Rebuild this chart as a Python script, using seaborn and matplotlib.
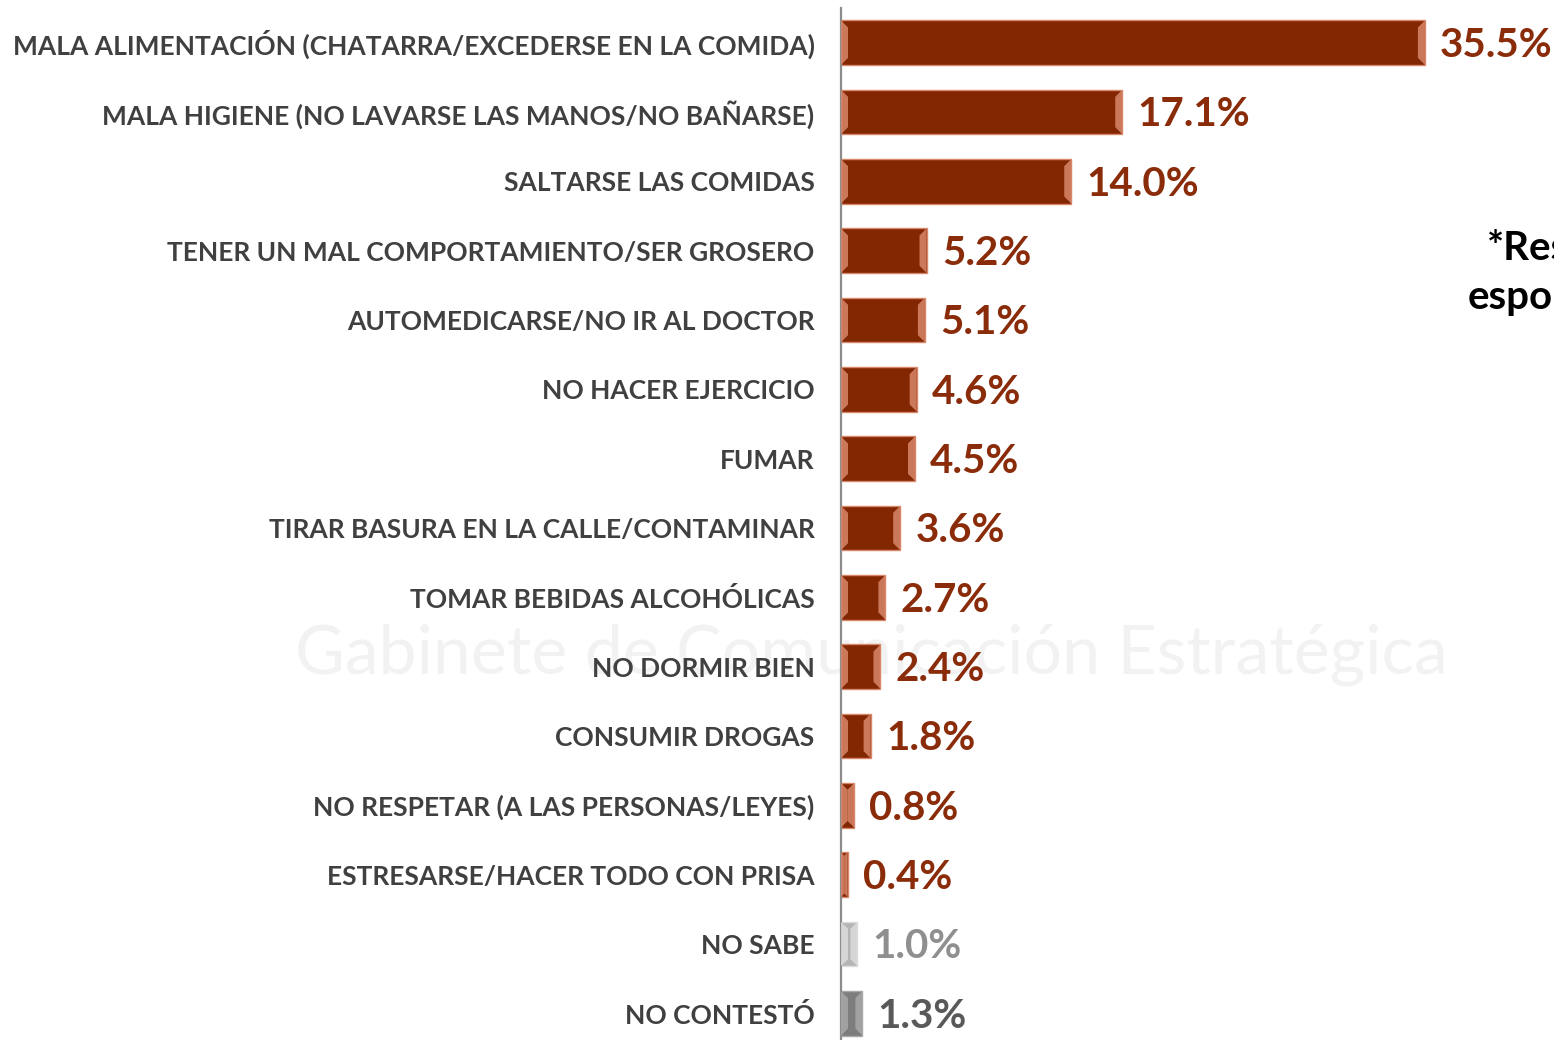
import matplotlib
matplotlib.use("Agg")
import matplotlib.pyplot as plt
from matplotlib.patches import Polygon
import seaborn as sns
import pandas as pd

categories = [
    "MALA ALIMENTACIÓN (CHATARRA/EXCEDERSE EN LA COMIDA)",
    "MALA HIGIENE (NO LAVARSE LAS MANOS/NO BAÑARSE)",
    "SALTARSE LAS COMIDAS",
    "TENER UN MAL COMPORTAMIENTO/SER GROSERO",
    "AUTOMEDICARSE/NO IR AL DOCTOR",
    "NO HACER EJERCICIO",
    "FUMAR",
    "TIRAR BASURA EN LA CALLE/CONTAMINAR",
    "TOMAR BEBIDAS ALCOHÓLICAS",
    "NO DORMIR BIEN",
    "CONSUMIR DROGAS",
    "NO RESPETAR (A LAS PERSONAS/LEYES)",
    "ESTRESARSE/HACER TODO CON PRISA",
    "NO SABE",
    "NO CONTESTÓ",
]
values = [35.5, 17.1, 14.0, 5.2, 5.1, 4.6, 4.5, 3.6, 2.7, 2.4, 1.8, 0.8, 0.4, 1.0, 1.3]
value_labels = [f"{v:.1f}%" for v in values]

RED = "#832703"
bar_colors = [RED] * 13 + ["#b5b5b5", "#7d7d7d"]
bevel_colors = ["#d9876a"] * 13 + ["#dcdcdc", "#a8a8a8"]
text_colors = ["#8a2c0a"] * 13 + ["#8f8f8f", "#595959"]

df = pd.DataFrame({"categoria": categories, "porcentaje": values})

sns.set_theme(style="white")
plt.rcParams["font.family"] = ["Lato", "DejaVu Sans"]

fig = plt.figure(figsize=(15.54, 10.4), dpi=100)
# faint watermark behind everything
fig.text(0.561, 0.37, "Gabinete de Comunicación Estratégica", fontsize=49, color="#f2f2f2",
         ha="center", va="center", zorder=-5)

ax = fig.add_axes([841 / 1554, -8 / 1040, 1 - 841 / 1554, 1.0])
ax.patch.set_alpha(0)

sns.barplot(data=df, x="porcentaje", y="categoria", hue="categoria", palette=bar_colors,
            legend=False, orient="h", width=0.64, ax=ax, saturation=1)

ax.set_xlim(0, 43.35)
ax.set_ylim(len(categories) - 0.5, -0.5)

# bevel effect on each bar
px_x = 16.45  # px per % unit
px_y = 69.3   # px per category
bev = 7
for p, bc in zip(ax.patches, bevel_colors):
    x0, y0 = p.get_x(), p.get_y()
    w, h = p.get_width(), p.get_height()
    bx = min(bev / px_x, w / 2)
    by = bx * px_x / px_y
    x1, y1 = x0 + w, y0 + h
    p.set_edgecolor(bc)
    p.set_linewidth(1.0)
    ax.add_patch(Polygon([(x0, y0), (x0 + bx, y0 + by), (x0 + bx, y1 - by), (x0, y1)],
                         closed=True, facecolor=bc, edgecolor="none", alpha=0.85, zorder=3))
    ax.add_patch(Polygon([(x1, y0), (x1 - bx, y0 + by), (x1 - bx, y1 - by), (x1, y1)],
                         closed=True, facecolor=bc, edgecolor="none", alpha=0.85, zorder=3))

for i, (v, lab, tc) in enumerate(zip(values, value_labels, text_colors)):
    kw = {}
    if i == 7:
        kw["bbox"] = dict(facecolor="white", edgecolor="none", pad=4)
    ax.annotate(lab, xy=(v, i), xytext=(11, -2), textcoords="offset points",
                ha="left", va="center", fontsize=29, fontweight="bold", color=tc, **kw)

for s in ["top", "right", "bottom"]:
    ax.spines[s].set_visible(False)
ax.spines["left"].set_color("#8c8c8c")
ax.spines["left"].set_linewidth(1.6)

ax.set_xticks([])
ax.set_xlabel("")
ax.set_ylabel("")
ax.set_yticks(range(len(categories)))
ax.set_yticklabels(categories, fontsize=19, fontweight="bold", color="#404040")
ax.tick_params(axis="y", which="major", length=0, pad=19)
ax.set_yticks([i - 0.5 for i in range(len(categories) + 1)], minor=True)
ax.tick_params(axis="y", which="minor", length=6, width=1.4, color="#8c8c8c", direction="out")

fig.text(1487 / 1554, 1 - 248 / 1040, "*Respuesta", fontsize=29, fontweight="bold",
         color="black", ha="left", va="center")
fig.text(1468 / 1554, 1 - 298 / 1040, "espontánea", fontsize=29, fontweight="bold",
         color="black", ha="left", va="center")

fig.savefig("out.png", dpi=100)
